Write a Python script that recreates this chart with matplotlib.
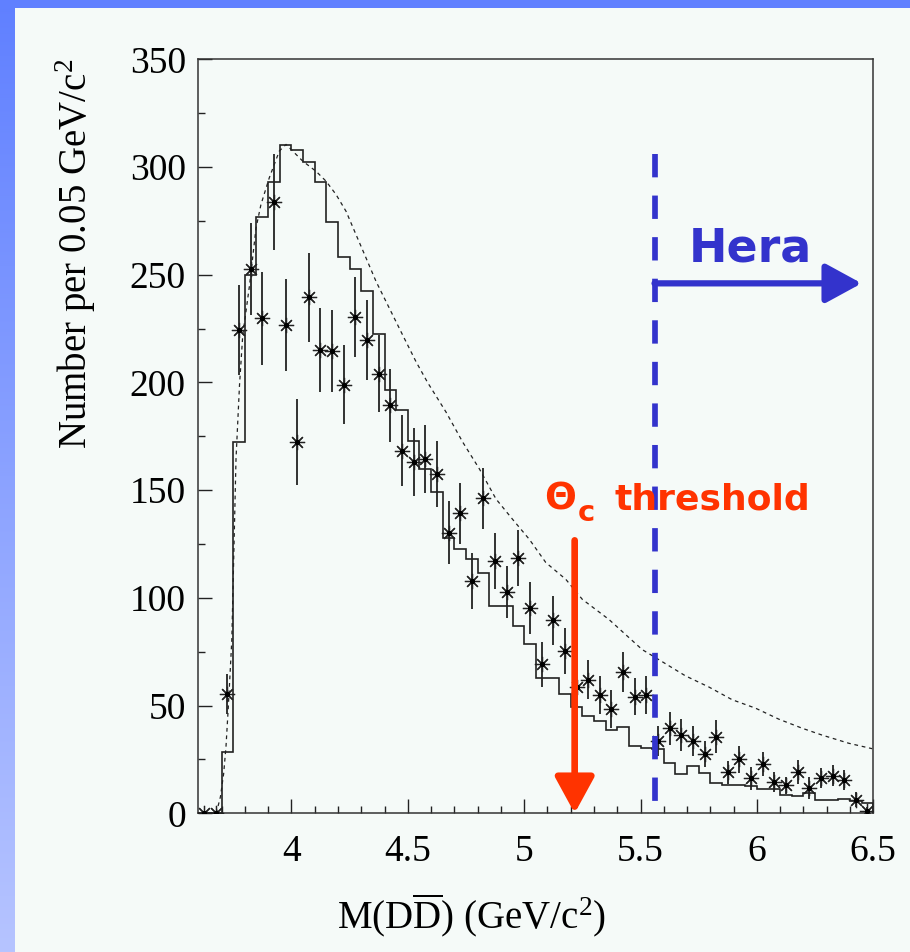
import numpy as np
import matplotlib
matplotlib.use("Agg")
from matplotlib import pyplot as plt

plt.rcParams['font.family'] = ['Liberation Serif', 'DejaVu Serif']
plt.rcParams['mathtext.fontset'] = 'custom'
plt.rcParams['mathtext.rm'] = 'Liberation Serif'
plt.rcParams['mathtext.it'] = 'Liberation Serif:italic'

# histogram (solid), bins of 0.05 GeV from 3.60 to 6.50
bin_edges = [round(3.60 + 0.05 * i, 2) for i in range(59)]
mc_counts = [0, 0, 28.6, 172.3, 250, 276.6, 293, 310, 307.7, 302.3,
             293, 274.5, 258, 252.7, 242.5, 222.4, 196.6, 187.4, 172.6, 159.8,
             149, 127.7, 122.6, 117.9, 111.4, 96.1, 96.1, 87, 78.6, 62.6,
             62.6, 55.3, 49.5, 45.2, 42.9, 38.7, 40.2, 31.4, 30.1, 29.7,
             23.2, 18.2, 22, 18.8, 14.1, 13, 13, 12.7, 11.2, 11.2,
             8.7, 7.9, 9.5, 6, 6, 6.8, 5.7, 5]

# data points with errors
data_x = [3.625, 3.675, 3.725, 3.775, 3.825, 3.875, 3.925, 3.975, 4.025, 4.075,
          4.125, 4.175, 4.225, 4.275, 4.325, 4.375, 4.425, 4.475, 4.525, 4.575,
          4.625, 4.675, 4.725, 4.775, 4.825, 4.875, 4.925, 4.975, 5.025, 5.075,
          5.125, 5.175, 5.225, 5.275, 5.325, 5.375, 5.425, 5.475, 5.525, 5.575,
          5.625, 5.675, 5.725, 5.775, 5.825, 5.875, 5.925, 5.975, 6.025, 6.075,
          6.125, 6.175, 6.225, 6.275, 6.325, 6.375, 6.425, 6.475]
data_y = [0, 0, 55.3, 224.3, 252.7, 229.7, 283.8, 226.5, 172.3, 239.5,
          215, 214.5, 199, 230.3, 219.6, 204.1, 189.3, 168.4, 163, 164.5,
          157.5, 130.3, 139.2, 107.8, 146.3, 117.1, 102.7, 118.4, 95.4, 69.2,
          89.5, 75.3, 58.4, 62, 55, 48.5, 65.4, 54.2, 55, 33.5,
          39.5, 36.3, 33.7, 27.5, 35.6, 19, 25, 16.2, 22.8, 14.6,
          13, 19.2, 11.8, 16.4, 17.4, 15.4, 6.4, 1]
data_err = [0, 0, 9.3, 20.8, 21.4, 21.4, 22.4, 21.4, 20, 20.7,
            19.6, 19, 18.5, 18.6, 18.5, 18, 17, 16.5, 15.7, 15.7,
            15.3, 14.5, 14, 13, 14.1, 13.2, 12, 13, 12, 10.5,
            11.3, 10.5, 9, 9, 8.9, 8.7, 9.3, 8.7, 8.9, 7,
            7.6, 7.4, 6.9, 6.1, 7.6, 5.4, 6.4, 5.5, 5.7, 4.8,
            3.9, 5.4, 5, 4.7, 4.9, 4.8, 3.5, 2]

# dashed curve
curve_x = [3.677, 3.695, 3.709, 3.719, 3.729, 3.738, 3.744, 3.762, 3.777, 3.791,
           3.82, 3.848, 3.869, 3.905, 3.948, 3.977, 4.049, 4.106, 4.149, 4.192,
           4.235, 4.278, 4.321, 4.364, 4.421, 4.478, 4.536, 4.585, 4.664, 4.736,
           4.808, 4.879, 4.95, 5.022, 5.093, 5.179, 5.25, 5.364, 5.507, 5.579,
           5.693, 5.794, 5.894, 5.994, 6.094, 6.194, 6.28, 6.395, 6.495]
curve_y = [0, 7.6, 18.5, 31, 49.5, 68, 80.6, 164.5, 198.7, 222,
           245, 271.7, 282.5, 295, 307.4, 310.5, 302.7, 298, 293.4, 287.2,
           279.4, 268.5, 257.7, 246.8, 234.4, 222, 209.5, 200, 186.3, 172.3,
           159.8, 145.9, 136.5, 127.2, 116.4, 108.6, 99.3, 90, 76, 71.3,
           63.8, 58.6, 52.7, 48.8, 43.7, 39.5, 36.3, 32.5, 30]

xticks = [4, 4.5, 5, 5.5, 6, 6.5]
xtick_labels = ['4', '4.5', '5', '5.5', '6', '6.5']
yticks = [0, 50, 100, 150, 200, 250, 300, 350]

threshold_x = 5.217
hera_x = 5.56

red = '#ff3300'
blue = '#3333cc'

fig = plt.figure(figsize=(9.1, 9.52), dpi=100)

# slide background: light body, blue strip on top and a graded one on the left
H, W = 952, 910
bg = np.ones((H, W, 3)) * np.array([245, 250, 248]) / 255
bg[:8, :, :] = np.array([96, 128, 255]) / 255
t = np.linspace(0, 1, H)[:, None]
left = (1 - t) * np.array([96, 128, 255]) + t * np.array([182, 196, 255])
bg[8:, :15, :] = (left[8:, None, :] / 255)
bg_ax = fig.add_axes([0, 0, 1, 1], zorder=-1)
bg_ax.imshow(bg, aspect='auto', interpolation='nearest')
bg_ax.axis('off')

ax = fig.add_axes([198.3 / W, (H - 813.3) / H, 675 / W, 754 / H])
ax.set_facecolor((245 / 255, 250 / 255, 248 / 255))

ax.stairs(mc_counts, bin_edges, color='#222222', lw=1.2, zorder=3)
ax.plot(curve_x, curve_y, color='#222222', lw=0.9, linestyle=(0, (3, 3)), zorder=2)

ax.errorbar(data_x, data_y, yerr=data_err, fmt='none', ecolor='#222222',
            elinewidth=1.3, capsize=0, zorder=4)
ax.plot(data_x, data_y, linestyle='none', marker=(8, 2, 0), markersize=11,
        markeredgewidth=0.9, color='#222222', zorder=5)
ax.plot(data_x, data_y, linestyle='none', marker='o', markersize=2.8,
        color='k', zorder=6)

# threshold arrow
ax.annotate('', xy=(threshold_x, 0), xytext=(threshold_x, 126.7),
            arrowprops=dict(arrowstyle='-|>,head_length=22,head_width=12',
                            mutation_scale=1, color=red, lw=4.8,
                            shrinkA=0, shrinkB=0), zorder=7)
ax.text(5.086, 141.2, '\u0398', color=red, fontsize=27, fontweight='bold',
        family='DejaVu Sans', ha='left', va='baseline', zorder=8)
ax.text(5.232, 135.5, 'c', color=red, fontsize=21, fontweight='bold',
        family='DejaVu Sans', ha='left', va='baseline', zorder=8)
ax.text(5.39, 141.2, 'threshold', color=red, fontsize=26, fontweight='bold',
        family='DejaVu Sans', ha='left', va='baseline', zorder=8)

# Hera region
ax.plot([hera_x, hera_x], [306, 5], color=blue, lw=4.1,
        linestyle=(0, (4.1, 3.2)), zorder=6)
ax.annotate('', xy=(6.45, 246), xytext=(hera_x, 246),
            arrowprops=dict(arrowstyle='-|>,head_length=22,head_width=12',
                            mutation_scale=1, color=blue, lw=4.5,
                            shrinkA=0, shrinkB=0), zorder=7)
ax.text(5.708, 256.3, 'Hera', color=blue, fontsize=33, fontweight='bold',
        family='DejaVu Sans', ha='left', va='baseline', zorder=8)

ax.set_xlim(3.6, 6.5)
ax.set_ylim(0, 350)
ax.set_xticks(xticks)
ax.set_xticklabels(xtick_labels)
ax.set_xticks(np.arange(3.7, 6.5, 0.1), minor=True)
ax.set_yticks(yticks)
ax.set_yticks(np.arange(25, 350, 50), minor=True)
ax.tick_params(which='both', direction='in', top=False, right=False,
               labelsize=27, width=1.0, color='#222222')
ax.tick_params(which='major', length=10)
ax.tick_params(which='minor', length=5)
ax.tick_params(axis='y', which='major', pad=9)
ax.tick_params(axis='x', which='major', pad=15)
for s in ax.spines.values():
    s.set_linewidth(1.1)
    s.set_color('#333333')

ax.set_ylabel('Number per 0.05 GeV/c$^2$', fontsize=28, loc='top')
ax.yaxis.set_label_coords(-0.148, 1.0)
ax.set_xlabel(r'M(D$\overline{\mathrm{D}}$) (GeV/c$^2$)', fontsize=28)
ax.xaxis.set_label_coords(0.405, -0.103)

plt.savefig('out.png', dpi=100)
